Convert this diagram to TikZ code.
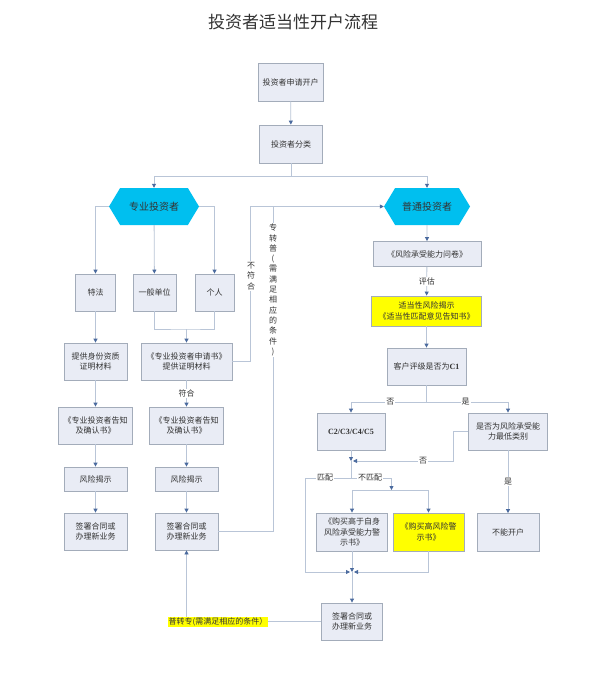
\documentclass[tikz,border=0pt]{standalone}
\usepackage{fontspec}
\setmainfont{Noto Sans CJK SC}
\newfontfamily\latinserif{Liberation Serif}
\usetikzlibrary{shapes.symbols,arrows.meta}
\definecolor{boxfill}{HTML}{E9ECF5}
\definecolor{boxline}{HTML}{A3ACBA}
\definecolor{linegray}{HTML}{B9C5D7}
\definecolor{tipblue}{HTML}{4A6A9E}
\definecolor{hexcyan}{HTML}{00BFEF}
\definecolor{txt}{HTML}{333333}
\definecolor{hiyellow}{HTML}{FFFF00}
\begin{document}
\begin{tikzpicture}[x=1pt, y=-1pt,
  box/.style={draw=boxline, fill=boxfill, line width=0.8pt, text=txt, align=center,
    inner sep=0pt, font=\fontsize{8}{10.5}\selectfont},
  hexa/.style={shape=signal, signal to=east and west, signal pointer angle=118,
    fill=hexcyan, text=txt, inner sep=0pt, minimum height=37pt, font=\fontsize{10}{12}\selectfont},
  ln/.style={draw=linegray, line width=0.8pt},
  arr/.style={ln, -{Triangle[length=4pt,width=4pt,color=tipblue]}},
  lbl/.style={fill=white, inner sep=1pt, text=txt, font=\fontsize{8}{10.3}\selectfont},
  vtext/.style={lbl, align=center}]
  \useasboundingbox[fill=white] (0,0) rectangle (589,674);
  \node[text=txt, font=\fontsize{17}{20}\selectfont] (title) at (293,22) {投资者适当性开户流程};
  % top
  \node[box, minimum width=65pt, minimum height=38pt] (apply) at (290.5,82) {投资者申请开户};
  \node[box, minimum width=63pt, minimum height=38pt] (classify) at (291,144) {投资者分类};
  \node[hexa, minimum width=90pt] (prof) at (154,206.5) {专业投资者};
  \node[hexa, minimum width=86pt] (normal) at (427,206.5) {普通投资者};
  % professional side
  \node[box, minimum width=40pt, minimum height=37pt] (tefa) at (95.5,292.5) {特法};
  \node[box, minimum width=43pt, minimum height=37pt] (unit) at (154.5,292.5) {一般单位};
  \node[box, minimum width=39pt, minimum height=37pt] (person) at (214.5,292.5) {个人};
  \node[box, minimum width=63pt, minimum height=37pt] (idproof) at (95.5,361.5) {提供身份资质\\证明材料};
  \node[box, minimum width=91pt, minimum height=37pt] (appbook) at (186.5,361.5) {《专业投资者申请书》\\提供证明材料};
  \foreach \c/\x in {1/95.5, 2/186.5} {
    \node[box, minimum width=74pt, minimum height=37pt] (notice\c) at (\x,425.5) {《专业投资者告知\\及确认书》};
    \node[box, minimum width=63pt, minimum height=24pt] (risk\c) at (\x,479) {风险揭示};
    \node[box, minimum width=63pt, minimum height=37pt] (sign\c) at (\x,531.5) {签署合同或\\办理新业务};
  }
  % ordinary side
  \node[box, minimum width=108pt, minimum height=25pt] (survey) at (427,254) {《风险承受能力问卷》};
  \node[box, fill=hiyellow, minimum width=110pt, minimum height=30pt] (disclose) at (426.5,311) {适当性风险揭示\\《适当性匹配意见告知书》};
  \node[box, minimum width=79pt, minimum height=37pt] (isc1) at (426.5,366.5) {客户评级是否为{\latinserif\bfseries C1}};
  \node[box, minimum width=68pt, minimum height=37pt] (cgrade) at (351,431.5) {\latinserif\bfseries C2/C3/C4/C5};
  \node[box, minimum width=79pt, minimum height=37pt] (lowest) at (508,431.5) {是否为风险承受能\\力最低类别};
  \node[box, minimum width=71pt, minimum height=38pt] (warn1) at (352,532) {《购买高于自身\\风险承受能力警\\示书》};
  \node[box, fill=hiyellow, minimum width=71pt, minimum height=38pt] (warn2) at (428.5,532) {《购买高风险警\\示书》};
  \node[box, minimum width=62pt, minimum height=38pt] (reject) at (508,532.5) {不能开户};
  \node[box, minimum width=61pt, minimum height=37pt] (sign3) at (352,621.5) {签署合同或\\办理新业务};
  % turning points
  \coordinate (split) at (291,176);
  \coordinate (join) at (186.5,329);
  \coordinate (back1) at (250,206.5);
  \coordinate (back2) at (273,206.5);
  \coordinate (c1fork) at (426.5,402);
  \coordinate (lowturn) at (453,461);
  \coordinate (m1) at (351,461);
  \coordinate (mfork) at (351,478);
  \coordinate (matcht) at (305,478);
  \coordinate (matchb) at (305,572);
  \coordinate (wfork) at (391.5,490);
  \coordinate (m2) at (352,572);
  % connectors
  \draw[arr] (apply) -- (classify);
  \draw[ln] (classify) -- (split);
  \draw[arr] (split) -| (prof.north);
  \draw[arr] (split) -| (normal.north);
  \draw[arr] (prof.west) -| (tefa.north);
  \draw[arr] (prof) -- (unit);
  \draw[arr] (prof.east) -| (person.north);
  \draw[ln] (unit) |- (join) -| (person);
  \draw[arr] (join) -- (appbook);
  \foreach \a/\b in {tefa/idproof, idproof/notice1, notice1/risk1, risk1/sign1,
      notice2/risk2, risk2/sign2, normal/survey, disclose/isc1, cgrade/m1, warn1/m2, m2/sign3}
    \draw[arr] (\a) -- (\b);
  \draw[arr] (appbook) -- (notice2) node[lbl, midway] (fit) {符合};
  \draw[arr] (survey) -- (disclose) node[lbl, midway] (assess) {评估};
  \draw[arr] (lowest) -- (reject) node[lbl, midway] (yes2) {是};
  \draw[arr] (appbook.east) -| (back1) -- (normal.west);
  \draw[ln] (sign2.east) -| (back2);
  \node[vtext] (nofit) at (251,276) {不\\符\\合};
  \node[vtext] (p2n) at (273,290) {专\\转\\普\\(\\需\\满\\足\\相\\应\\的\\条\\件\\)};
  \draw[ln] (isc1) -- (c1fork);
  \draw[arr] (c1fork) -| (cgrade.north) node[lbl, pos=0.24] (no1) {否};
  \draw[arr] (c1fork) -| (lowest.north) node[lbl, pos=0.24] (yes1) {是};
  \draw[arr, shorten >=2pt] (lowest.west) -| (lowturn) -- (m1);
  \node[lbl] (no2) at (423,461) {否};
  \draw[ln] (m1) -- (mfork);
  \draw[arr, shorten >=2pt] (mfork) -- (matcht) -- (matchb) -- (m2);
  \node[lbl] (match) at (325,478) {匹配};
  \draw[arr] (mfork) -| (wfork);
  \node[lbl] (nomatch) at (370,478) {不匹配};
  \draw[ln] (warn1.north |- wfork) -- (warn2.north |- wfork);
  \draw[arr] (warn1.north |- wfork) -- (warn1);
  \draw[arr] (warn2.north |- wfork) -- (warn2);
  \draw[arr, shorten >=2pt] (warn2) |- (m2);
  \draw[arr] (sign3) -| (sign2);
  \node[lbl, fill=hiyellow] (n2p) at (218,622) {普转专(需满足相应的条件）};
\end{tikzpicture}
\end{document}
